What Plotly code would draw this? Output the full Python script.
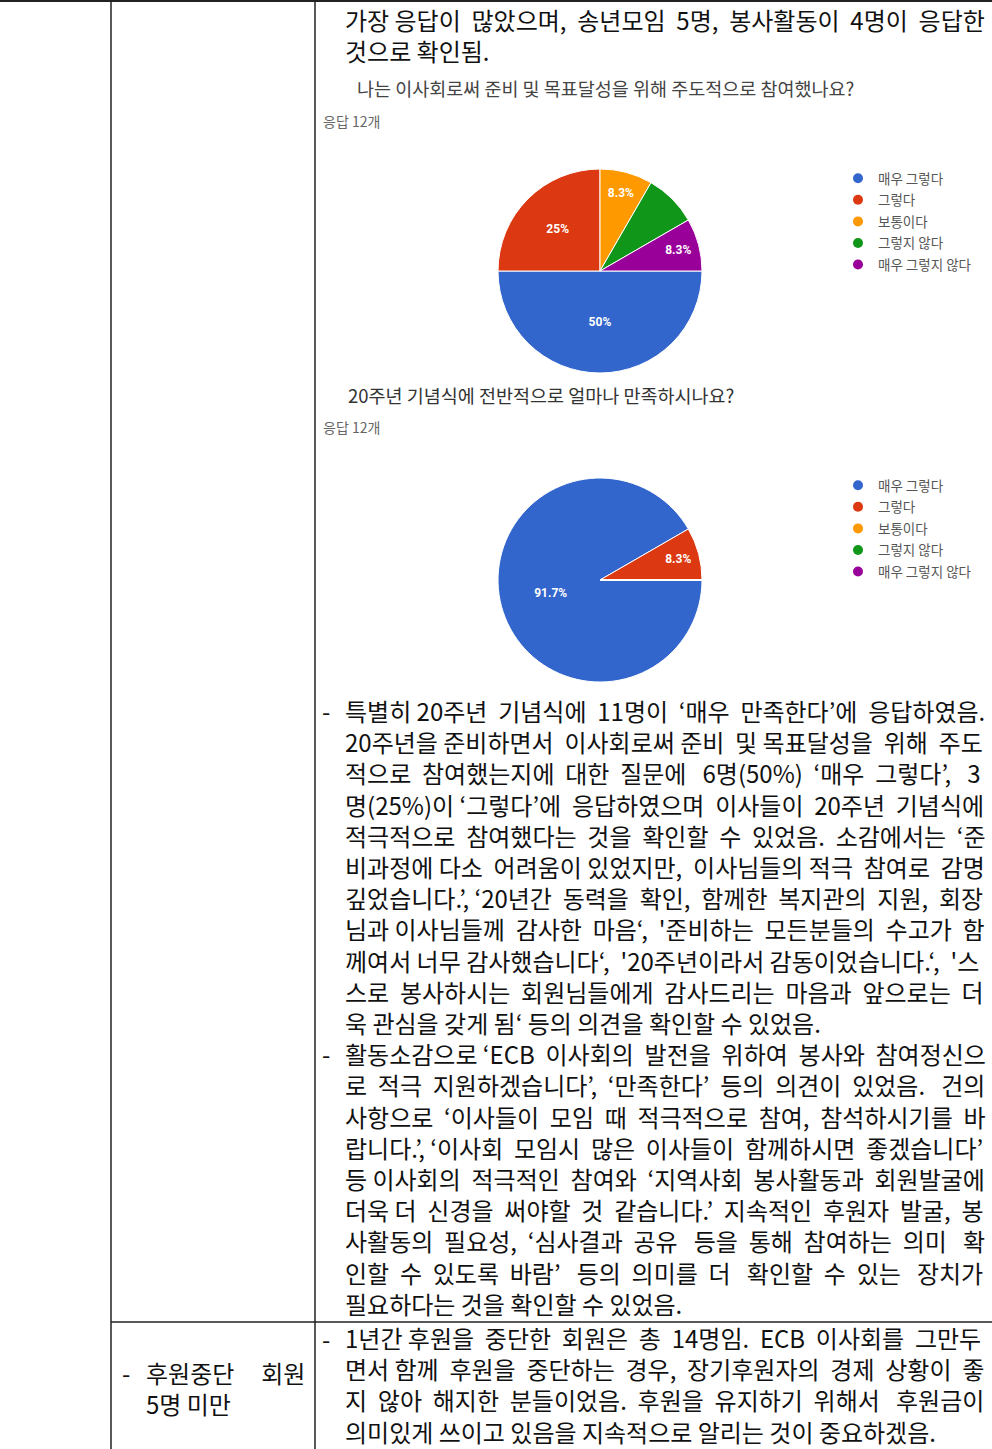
import plotly.graph_objects as go

W, H = 992, 1449

# ── survey data ───────────────────────────────────────────────────────────────
answer_labels = ["매우 그렇다", "그렇다", "보통이다", "그렇지 않다", "매우 그렇지 않다"]
answer_colors = ["#3366cc", "#dc3912", "#ff9900", "#109618", "#990099"]

q1_title = "나는 이사회로써 준비 및 목표달성을 위해 주도적으로 참여했나요?"
q1_counts = [6, 3, 1, 1, 1]
q1_show_label = [True, True, True, False, True]

q2_title = "20주년 기념식에 전반적으로 얼마나 만족하시나요?"
q2_counts = [11, 1, 0, 0, 0]
q2_show_label = [True, True, False, False, False]

response_note = "응답 12개"

# ── document text around the charts ───────────────────────────────────────────
intro_lines = [
    "가장 응답이 많았으며, 송년모임 5명, 봉사활동이 4명이 응답한",
    "것으로 확인됨.",
]
body_lines = [
    "- 특별히 20주년 기념식에 11명이 ‘매우 만족한다’에 응답하였음.",
    "20주년을 준비하면서 이사회로써 준비 및 목표달성을 위해 주도",
    "적으로 참여했는지에 대한 질문에 6명(50%) ‘매우 그렇다’, 3",
    "명(25%)이 ‘그렇다’에 응답하였으며 이사들이 20주년 기념식에",
    "적극적으로 참여했다는 것을 확인할 수 있었음. 소감에서는 ‘준",
    "비과정에 다소 어려움이 있었지만, 이사님들의 적극 참여로 감명",
    "깊었습니다.’, ‘20년간 동력을 확인, 함께한 복지관의 지원, 회장",
    "님과 이사님들께 감사한 마음‘, '준비하는 모든분들의 수고가 함",
    "께여서 너무 감사했습니다‘, '20주년이라서 감동이었습니다.‘, '스",
    "스로 봉사하시는 회원님들에게 감사드리는 마음과 앞으로는 더",
    "욱 관심을 갖게 됨‘ 등의 의견을 확인할 수 있었음.",
    "- 활동소감으로 ‘ECB 이사회의 발전을 위하여 봉사와 참여정신으",
    "로 적극 지원하겠습니다’, ‘만족한다’ 등의 의견이 있었음. 건의",
    "사항으로 ‘이사들이 모임 때 적극적으로 참여, 참석하시기를 바",
    "랍니다.’, ‘이사회 모임시 많은 이사들이 함께하시면 좋겠습니다’",
    "등 이사회의 적극적인 참여와 ‘지역사회 봉사활동과 회원발굴에",
    "더욱 더 신경을 써야할 것 같습니다.’ 지속적인 후원자 발굴, 봉",
    "사활동의 필요성, ‘심사결과 공유 등을 통해 참여하는 의미 확",
    "인할 수 있도록 바람’ 등의 의미를 더 확인할 수 있는 장치가",
    "필요하다는 것을 확인할 수 있었음.",
]
stop_lines = [
    "- 1년간 후원을 중단한 회원은 총 14명임. ECB 이사회를 그만두",
    "면서 함께 후원을 중단하는 경우, 장기후원자의 경제 상황이 좋",
    "지 않아 해지한 분들이었음. 후원을 유지하기 위해서 후원금이",
    "의미있게 쓰이고 있음을 지속적으로 알리는 것이 중요하겠음.",
]
stop_label = ["- 후원중단 회원", "5명 미만"]

FONT = "Noto Sans CJK KR, Noto Sans, sans-serif"
BODY = 24
STEP = BODY * 1.3   # plotly's line spacing for <br> text


def fx(px):
    return px / W


def fy(py):
    return 1 - py / H


def pct_text(counts, show):
    total = sum(counts)
    return [f"{round(c / total * 100, 1):g}%" if s and c else ""
            for c, s in zip(counts, show)]


def pie_domain(cx, cy, r):
    return dict(x=[fx(cx - r), fx(cx + r)], y=[fy(cy + r), fy(cy - r)])


fig = go.Figure()

for counts, show, (cx, cy) in [
    (q1_counts, q1_show_label, (600, 271)),
    (q2_counts, q2_show_label, (600, 580)),
]:
    fig.add_trace(go.Pie(
        labels=answer_labels, values=counts,
        text=pct_text(counts, show), textinfo="text",
        textposition="inside", insidetextorientation="horizontal",
        textfont=dict(family="Roboto, sans-serif", size=12, color="white", weight="bold"),
        marker=dict(colors=answer_colors, line=dict(color="white", width=1)),
        sort=False, direction="clockwise", rotation=90,
        domain=pie_domain(cx, cy, 102),
        showlegend=False, hoverinfo="label+percent",
    ))

# circle-marker legends, one per chart
for leg in ["legend", "legend2"]:
    for lab, col in zip(answer_labels, answer_colors):
        fig.add_trace(go.Scatter(
            x=[None], y=[None], mode="markers", name=lab,
            marker=dict(color=col, size=10, symbol="circle"),
            legend=leg, legendgroup=leg + lab, showlegend=True,
        ))

legend_style = dict(
    font=dict(family=FONT, size=13.5, color="#555555"),
    bgcolor="rgba(0,0,0,0)", borderwidth=0, tracegroupgap=1,
    xanchor="left", yanchor="top", itemclick=False,
)

ann = []


def text(x, y, s, size=BODY, color="#111111"):
    ann.append(dict(x=fx(x), y=fy(y), xref="paper", yref="paper", text=s,
                    showarrow=False, xanchor="left", yanchor="middle", align="left",
                    font=dict(family=FONT, size=size, color=color)))


def est_width(s, size):
    # rough advance widths of Noto Sans CJK KR, in em
    w = 0.0
    for ch in s:
        if "\uac00" <= ch <= "\ud7a3":
            w += 0.92
        elif ch.isdigit():
            w += 0.56
        elif ch == " ":
            w += 0.224
        elif ch in ".,":
            w += 0.25
        elif ch in "‘’'":
            w += 0.24
        elif ch in "()":
            w += 0.34
        elif ch == "%":
            w += 0.87
        elif ch.isupper():
            w += 0.62
        else:
            w += 0.6
    return w * size


def justify(s, width, size=BODY):
    # widen the word gaps with extra spaces so the line fills the cell
    words = s.split(" ")
    gaps = len(words) - 1
    extra = max(int((width - est_width(s, size)) / (0.224 * size) + 0.3), 0)
    out = words[0]
    for i, w in enumerate(words[1:]):
        n = 1 + (extra * (i + 1)) // gaps - (extra * i) // gaps
        out += " " * n + w
    return out


def block(lines, y_first, x0=343, x1=982, dash_x=320):
    """One multi-line text per cell, dashes hung in front of paragraph starts."""
    out = []
    for i, s in enumerate(lines):
        if s.startswith("- "):
            text(dash_x, y_first + i * STEP, "-")
            s = s[2:]
        last = i == len(lines) - 1 or lines[i + 1].startswith("- ")
        out.append(s if last else justify(s, x1 - x0))
    text(x0, y_first + (len(lines) - 1) * STEP / 2, "<br>".join(out))


block(intro_lines, 19)
block(body_lines, 710.5)
block(stop_lines, 1338)
block(stop_label, 1372, x0=144, x1=305, dash_x=120)

text(355, 88, q1_title, size=18.5, color="#444444")
text(321, 121, response_note, size=14, color="#666666")
text(346, 395, q2_title, size=18.5, color="#333333")
text(321, 427, response_note, size=14, color="#666666")

line = dict(color="#222222", width=1.5)
shapes = [
    dict(type="line", xref="paper", yref="paper", x0=0, x1=1, y0=fy(1), y1=fy(1),
         line=dict(color="#222222", width=2)),
    dict(type="line", xref="paper", yref="paper", x0=fx(111), x1=fx(111), y0=0, y1=1, line=line),
    dict(type="line", xref="paper", yref="paper", x0=fx(315), x1=fx(315), y0=0, y1=1, line=line),
    dict(type="line", xref="paper", yref="paper", x0=fx(111), x1=1, y0=fy(1322), y1=fy(1322),
         line=line),
]

fig.update_layout(
    width=W, height=H,
    margin=dict(l=0, r=0, t=0, b=0),
    paper_bgcolor="white", plot_bgcolor="white",
    xaxis=dict(visible=False), yaxis=dict(visible=False),
    legend=dict(legend_style, x=fx(838), y=fy(163)),
    legend2=dict(legend_style, x=fx(838), y=fy(470)),
    annotations=ann, shapes=shapes,
)

# page body has a default 8px margin; drop it so the figure sits at the corner
fig.write_html("out.html", config={"displayModeBar": False},
               post_script="document.body.style.margin = '0';")
